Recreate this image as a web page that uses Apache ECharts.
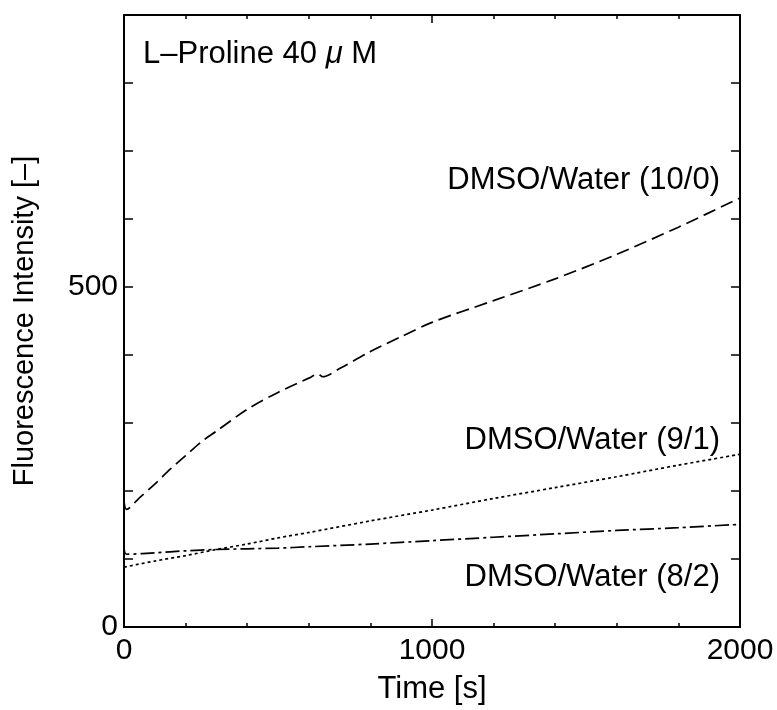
<!DOCTYPE html>
<html>
<head>
<meta charset="utf-8">
<script src="https://cdn.jsdelivr.net/npm/echarts@6/dist/echarts.min.js"></script>
<style>html,body{margin:0;padding:0;background:#fff;}#c{width:777px;height:710px;}</style>
</head>
<body>
<div id="c"></div>
<script>
// ---- data ----
const time10 = [0, 8, 50, 100, 150, 200, 250, 300, 400, 500, 600, 630, 645, 700, 800, 900, 1000, 1200, 1400, 1600, 1800, 2000];
const val10  = [185, 173, 190, 210, 232, 252, 272, 288, 320, 345, 366, 372, 368, 380, 405, 427, 448, 480, 512, 548, 588, 631];

const time91 = [0, 100, 200, 300, 400, 500, 600, 800, 1000, 1200, 1400, 1600, 1800, 2000];
const val91  = [88, 97, 105, 114, 122, 131, 139, 156, 172, 189, 205, 221, 238, 254];

const time82 = [0, 8, 100, 200, 300, 400, 500, 600, 800, 1000, 1200, 1400, 1600, 1800, 2000];
const val82  = [122, 107, 109, 112, 114, 115, 116, 118, 122, 127, 132, 137, 142, 146, 151];

const seriesNames = ['DMSO/Water (10/0)', 'DMSO/Water (9/1)', 'DMSO/Water (8/2)'];
const xTicks = [0, 1000, 2000];
const yTicks = [0, 500];

const pair = (t, v) => t.map((x, i) => [x, v[i]]);

const FONT = "'Liberation Sans', Arial, sans-serif";
const chart = echarts.init(document.getElementById('c'), null, {renderer: 'canvas'});

const axisLine = {show: true, onZero: false, lineStyle: {color: '#000', width: 2}};
const xCommon = {
  type: 'value', min: 0, max: 2000, interval: 1000, gridIndex: 0,
  axisLine: axisLine,
  axisTick: {show: true, inside: true, length: 8, lineStyle: {color: '#000', width: 1.5}},
  minorTick: {show: true, splitNumber: 5, length: 4, lineStyle: {color: '#000', width: 1.5}},
  splitLine: {show: false}, minorSplitLine: {show: false}
};
const yCommon = {
  type: 'value', min: 0, max: 900, interval: 100, gridIndex: 0,
  axisLine: axisLine,
  axisTick: {show: true, inside: true, length: 9, lineStyle: {color: '#000', width: 1.5}},
  splitLine: {show: false}
};

chart.setOption({
  animation: false,
  backgroundColor: '#fff',
  grid: {left: 124, right: 37, top: 15, bottom: 79, containLabel: false},
  xAxis: [
    Object.assign({}, xCommon, {
      position: 'bottom',
      name: 'Time [s]', nameLocation: 'middle', nameGap: 47,
      nameTextStyle: {fontFamily: FONT, fontSize: 31, color: '#000'},
      axisLabel: {show: true, fontFamily: FONT, fontSize: 30, color: '#000', margin: 9,
        formatter: v => xTicks.includes(v) ? String(v) : ''}
    }),
    Object.assign({}, xCommon, {position: 'top', axisLabel: {show: false}})
  ],
  yAxis: [
    Object.assign({}, yCommon, {
      position: 'left',
      name: 'Fluorescence Intensity [\u2013]', nameLocation: 'middle', nameGap: 85,
      nameTextStyle: {fontFamily: FONT, fontSize: 29, color: '#000'},
      axisLabel: {show: true, fontFamily: FONT, fontSize: 30, color: '#000', margin: 6,
        formatter: v => yTicks.includes(v) ? String(v) : ''}
    }),
    Object.assign({}, yCommon, {position: 'right', axisLabel: {show: false}})
  ],
  series: [
    {name: seriesNames[0], type: 'line', xAxisIndex: 0, yAxisIndex: 0, data: pair(time10, val10), showSymbol: false, smooth: 0.3,
      lineStyle: {color: '#000', width: 1.7, type: [13, 6]}},
    {name: seriesNames[1], type: 'line', xAxisIndex: 0, yAxisIndex: 0, data: pair(time91, val91), showSymbol: false, smooth: 0.3,
      lineStyle: {color: '#000', width: 1.7, type: [3, 3]}},
    {name: seriesNames[2], type: 'line', xAxisIndex: 0, yAxisIndex: 0, data: pair(time82, val82), showSymbol: false, smooth: 0.3,
      lineStyle: {color: '#000', width: 1.7, type: [14, 4, 3, 4]}}
  ],
  graphic: [
    {type: 'text', left: 143, top: 39, style: {
      text: '{a|L\u2013Proline 40 }{b|\u03bc}{a| M}',
      rich: {a: {font: '31px ' + FONT, fill: '#000'}, b: {font: 'italic 31px ' + FONT, fill: '#000'}},
      font: '31px ' + FONT, fill: '#000'}},
    {type: 'text', right: 57, top: 165, style: {text: seriesNames[0], font: '31px ' + FONT, fill: '#000'}},
    {type: 'text', right: 57, top: 425, style: {text: seriesNames[1], font: '31px ' + FONT, fill: '#000'}},
    {type: 'text', right: 57, top: 562, style: {text: seriesNames[2], font: '31px ' + FONT, fill: '#000'}}
  ]
});
</script>
</body>
</html>
